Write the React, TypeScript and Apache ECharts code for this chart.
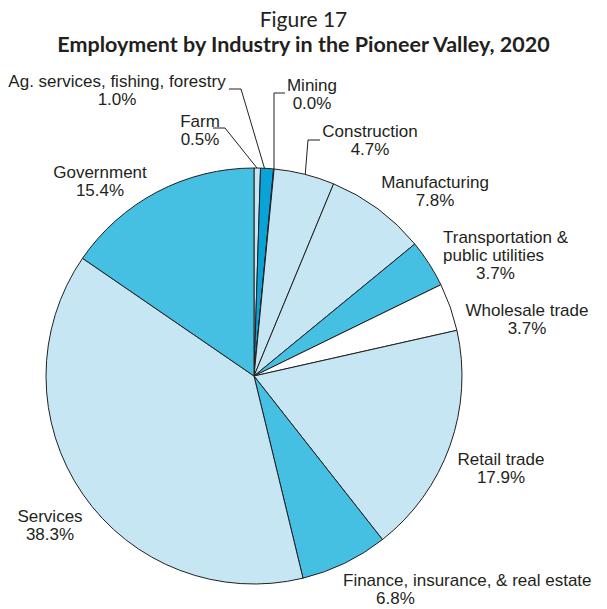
import React, { useEffect, useRef } from "react";
import * as echarts from "echarts";

const categories = [
  "Farm",
  "Ag. services, fishing, forestry",
  "Mining",
  "Construction",
  "Manufacturing",
  "Transportation &\npublic utilities",
  "Wholesale trade",
  "Retail trade",
  "Finance, insurance, & real estate",
  "Services",
  "Government",
];
const shares = [0.5, 1.0, 0.04, 4.7, 7.8, 3.7, 3.7, 17.9, 6.8, 38.3, 15.4];

const PALE = "#c6e6f4";
const BLUE = "#45bfe2";
const DARK = "#0aa3d7";
const INK = "#231f20";
const sliceColors = [PALE, DARK, "#ffffff", PALE, PALE, BLUE, "#ffffff", PALE, BLUE, PALE, BLUE];

// label anchor positions (x, y, align) and optional leader lines
const labelPos: { x: number; y: number; align: string; pad?: number }[] = [
  { x: 200, y: 130, align: "center" },
  { x: 117, y: 90, align: "center" },
  { x: 312, y: 94, align: "center" },
  { x: 370, y: 140, align: "center" },
  { x: 435, y: 191, align: "center" },
  { x: 443, y: 255, align: "left", pad: 33 },
  { x: 527, y: 319, align: "center" },
  { x: 501, y: 468, align: "center" },
  { x: 343, y: 589, align: "left", pad: 34 },
  { x: 50, y: 525, align: "center" },
  { x: 100, y: 181, align: "center" },
];
const leaders: (number[][] | null)[] = [
  [[257, 168], [225, 128], [213, 128]],
  [[265, 170], [241, 89], [229, 89]],
  [[274, 172], [274, 93], [285, 93]],
  [[305, 177], [308, 140], [320, 140]],
  null, null, null, null, null, null, null,
];

const FONT = "'Liberation Sans', Arial, Helvetica, sans-serif";
const FS = 17;

export default function App() {
  const ref = useRef<HTMLDivElement>(null);
  useEffect(() => {
    document.body.style.margin = "0";
    const chart = echarts.init(ref.current!, null, { renderer: "svg" });
    const data = categories.map((name, i) => ({
      name,
      value: shares[i],
      itemStyle: { color: sliceColors[i] },
      labelLine: { show: !!leaders[i] },
    }));
    chart.setOption({
      animation: false,
      backgroundColor: "#ffffff",
      title: [
        {
          text: "Figure 17",
          left: "center",
          top: 3,
          textStyle: { fontFamily: "Lato, 'Open Sans', sans-serif", fontWeight: "normal", fontSize: 21, color: INK },
        },
        {
          text: "Employment by Industry in the Pioneer Valley, 2020",
          left: "center",
          top: 28,
          textStyle: { fontFamily: "Lato, 'Open Sans', sans-serif", fontWeight: "bold", fontSize: 21.5, color: INK },
        },
      ],
      series: [
        {
          type: "pie",
          center: [254, 376],
          radius: 208,
          startAngle: 90,
          clockwise: true,
          avoidLabelOverlap: false,
          data,
          itemStyle: { borderColor: INK, borderWidth: 1 },
          emphasis: { disabled: true },
          label: {
            show: true,
            position: "outside",
            fontFamily: FONT,
            fontSize: FS,
            lineHeight: 18,
            color: INK,
            formatter: (p: any) => {
              const pct = Number(p.value).toFixed(1) + "%";
              const lp = labelPos[p.dataIndex];
              if (lp.pad) {
                const lines = String(p.name).split("\n").map((l) => `{a|${l}}`);
                return lines.join("\n") + `\n{b|${pct}}`;
              }
              return `${p.name}\n${pct}`;
            },
            rich: {
              a: { fontFamily: FONT, fontSize: FS, lineHeight: 18, color: INK },
              b: { fontFamily: FONT, fontSize: FS, lineHeight: 18, color: INK, padding: [0, 0, 0, 33] },
            },
          },
          labelLine: { lineStyle: { color: INK, width: 1 }, smooth: false },
          labelLayout: (params: any) => {
            const lp = labelPos[params.dataIndex];
            const out: any = { x: lp.x, y: lp.y, align: lp.align, verticalAlign: "middle" };
            const ld = leaders[params.dataIndex];
            if (ld) out.labelLinePoints = ld;
            return out;
          },
        },
      ],
    });
    return () => chart.dispose();
  }, []);
  return <div ref={ref} style={{ width: 607, height: 609 }} />;
}
